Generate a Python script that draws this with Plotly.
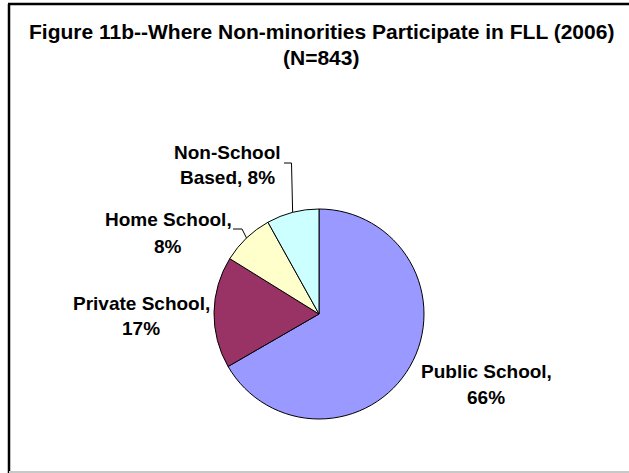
import math
import plotly.graph_objects as go

# Where non-minority FLL participants take part (2006), N=843
categories = ["Public School", "Private School", "Home School", "Non-School Based"]
shares = [66, 17, 8, 8]  # percent
colors = ["#9999FF", "#993366", "#FFFFCC", "#CCFFFF"]
title_lines = ["Figure 11b--Where Non-minorities Participate in FLL (2006)", "(N=843)"]

W, H = 629, 473
CX, CY, R = 319, 314, 105  # pie centre and radius in pixels

FONT = "Liberation Sans, Arial, sans-serif"


def px(x, y):
    """pixel (from top-left) -> paper coords"""
    return x / W, 1 - y / H


fig = go.Figure(
    go.Pie(
        labels=categories,
        values=shares,
        sort=False,
        direction="clockwise",
        rotation=0,
        marker=dict(colors=colors, line=dict(color="black", width=1)),
        textinfo="none",
        hoverinfo="label+value",
        showlegend=False,
        domain=dict(x=[(CX - R) / W, (CX + R) / W],
                    y=[(H - CY - R) / H, (H - CY + R) / H]),
    )
)

# slice mid-angles (clockwise from 12 o'clock)
total = sum(shares)
mids = []
acc = 0.0
for v in shares:
    mids.append((acc + v / 2) / total * 2 * math.pi)
    acc += v


def edge(i):
    a = mids[i]
    return CX + R * math.sin(a), CY - R * math.cos(a)


# label centres (pixels) per slice, two lines each
label_pos = {
    "Public School": (486, 371, 397),
    "Private School": (141, 303, 328),
    "Home School": (168, 219, 246),
    "Non-School Based": (227, 152, 177),
}
label_lines = {
    "Public School": ("Public School,", "{}%"),
    "Private School": ("Private School,", "{}%"),
    "Home School": ("Home School,", "{}%"),
    "Non-School Based": ("Non-School", "Based, {}%"),
}

annotations = []
for cat, val in zip(categories, shares):
    x, y1, y2 = label_pos[cat]
    l1, l2 = label_lines[cat]
    for txt, yy in ((l1, y1), (l2.format(val), y2)):
        ax, ay = px(x, yy)
        annotations.append(dict(
            x=ax, y=ay, xref="paper", yref="paper", text=f"<b>{txt}</b>",
            showarrow=False, xanchor="center", yanchor="middle",
            font=dict(family=FONT, size=19, color="black"),
        ))

# title
for txt, yy in zip(title_lines, (32, 57)):
    ax, ay = px(321, yy)
    annotations.append(dict(
        x=ax, y=ay, xref="paper", yref="paper", text=f"<b>{txt}</b>",
        showarrow=False, xanchor="center", yanchor="middle",
        font=dict(family=FONT, size=21, color="black"),
    ))

shapes = []


def seg(p, q, color="black", width=1):
    x0, y0 = px(*p)
    x1, y1 = px(*q)
    shapes.append(dict(type="line", xref="paper", yref="paper",
                       x0=x0, y0=y0, x1=x1, y1=y1,
                       line=dict(color=color, width=width)))


# leader lines for the two small slices
e = edge(3)
seg(e, (291.5, 163))
seg((291.5, 163), (284, 163))
e = edge(2)
seg(e, (242, 229))
seg((242, 229), (233, 229))

# chart area frame
seg((9, 4), (9, H), width=2.5)
seg((8, 4), (W, 4), width=2.5)
seg((9, 472), (W, 472), color="#c8c8c8", width=2)

fig.update_layout(
    width=W, height=H,
    margin=dict(l=0, r=0, t=0, b=0),
    paper_bgcolor="white",
    plot_bgcolor="white",
    annotations=annotations,
    shapes=shapes,
)

fig.write_html("out.html")
